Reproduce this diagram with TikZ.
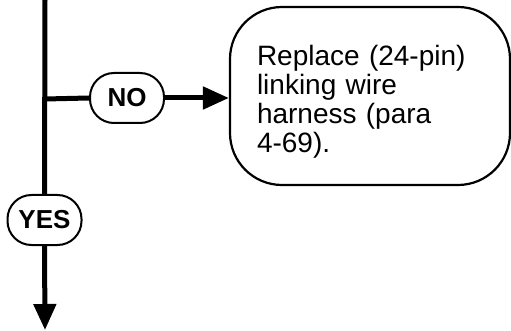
\documentclass[tikz,border=0pt]{standalone}
\usepackage{fontspec}
\setmainfont{Liberation Sans}
\usetikzlibrary{arrows.meta,positioning}

\begin{document}
\begin{tikzpicture}[x=1pt, y=-1pt,
    flow/.style={line width=5pt},
    answer/.style={draw, line width=2pt, fill=white, rounded corners=24pt, minimum width=74pt, minimum height=50pt, inner sep=0pt, font=\fontsize{26}{26}\selectfont\bfseries},
    action/.style={draw, line width=2.2pt, fill=white, rounded corners=52pt, minimum width=280pt, minimum height=178pt, text width=226pt, inner xsep=27pt, align=left, font=\fontsize{28}{29}\selectfont}]
  \useasboundingbox (0,0) rectangle (511,331);

  % Main line and its ends
  \coordinate (top) at (45,0);
  \coordinate (split) at (45,99);
  \coordinate (bottom) at (45,330);

  % Replacement step
  \node[action] (replace) at (370,96) {\raisebox{-6pt}[\height][\depth]{\parbox{226pt}{\raggedright\fontsize{28}{29}\selectfont Replace (24-pin)\\ linking wire\\ harness (para\\ 4-69).}}};

  % Answers
  \node[answer] (no) at (127,98) {NO};
  \node[answer] (yes) at (44.5,220) {YES};

  % Connectors
  \draw[flow] (top) -- (yes.north);
  \draw[flow] (split) -- (no.west);
  \draw[flow, -{Triangle[length=26pt, width=22pt]}] (no.east) -- (no.east -| replace.west);
  \draw[flow, -{Triangle[length=26pt, width=22pt]}] (yes.south) -- (bottom);
\end{tikzpicture}
\end{document}
